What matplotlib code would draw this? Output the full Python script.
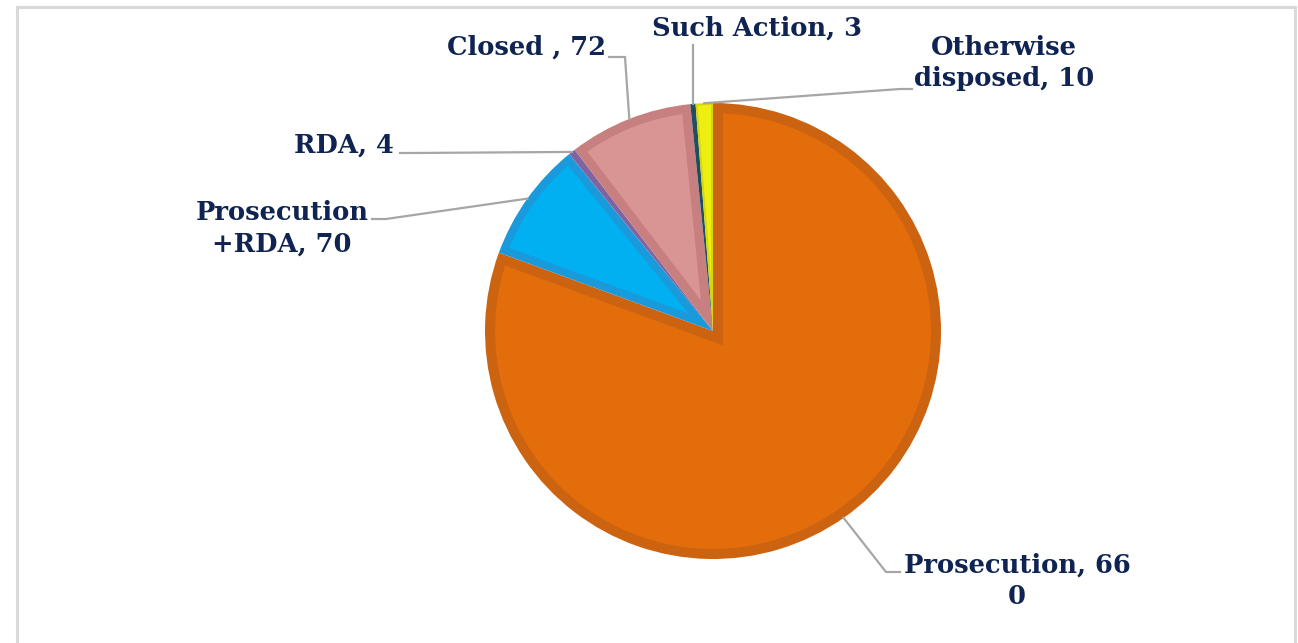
import numpy as np
import matplotlib
matplotlib.use("Agg")
import matplotlib.pyplot as plt
from matplotlib.patches import Rectangle, Polygon

# Case disposal breakdown
categories = ["Prosecution", "Prosecution\n+RDA", "RDA", "Closed ", "Such Action", "Otherwise\ndisposed"]
values = [660, 70, 4, 72, 3, 10]
label_texts = ["Prosecution, 66\n0", "Prosecution\n+RDA, 70", "RDA, 4", "Closed , 72",
               "Such Action, 3", "Otherwise\ndisposed, 10"]

fill_colors = ["#E36C0B", "#00B0F0", "#8064A2", "#D99594", "#1F4E5F", "#EEEE10"]
edge_colors = ["#CB6311", "#1A9ADA", "#6E5690", "#C7807F", "#1F4E5F", "#D6D60C"]
border_px = [10, 8, 0, 9, 0, 2]
text_color = "#0F2452"
leader_color = "#A6A6A6"

W, H = 1298, 643
fig = plt.figure(figsize=(W / 100, H / 100), dpi=100)
ax = fig.add_axes([0, 0, 1, 1])

# chart frame
fig.patches.append(Rectangle((17, -10), 1278, H - 7 + 10, transform=None, fill=False,
                             edgecolor="#D9D9D9", linewidth=2.2, figure=fig))

cx, cy, r = 713, H - 331, 228
wedges, _ = ax.pie(values, colors=edge_colors, startangle=90, counterclock=False,
                   center=(cx, cy), radius=r, frame=True,
                   wedgeprops=dict(linewidth=0))
ax.set_xlim(0, W)
ax.set_ylim(0, H)
ax.set_aspect("equal")
ax.axis("off")


def inset_wedge(w, d):
    """Polygon of the wedge shrunk inward by d (mitred corner at the centre)."""
    t1, t2 = np.deg2rad(w.theta1), np.deg2rad(w.theta2)
    half = (t2 - t1) / 2
    mid = (t1 + t2) / 2
    rr = w.r - d
    apex_dist = d / abs(np.sin(half))
    delta = np.arcsin(d / rr)
    if apex_dist >= rr * np.cos(delta) or t2 - t1 <= 2 * delta:
        return None
    c = np.array(w.center)
    apex = c + apex_dist * np.array([np.cos(mid), np.sin(mid)])
    ang = np.linspace(t1 + delta, t2 - delta, 200)
    arc = np.column_stack([c[0] + rr * np.cos(ang), c[1] + rr * np.sin(ang)])
    return np.vstack([apex, arc])


for w, fc, d in zip(wedges, fill_colors, border_px):
    pts = inset_wedge(w, d) if d else None
    if pts is None:
        w.set_facecolor(fc)
        continue
    ax.add_patch(Polygon(pts, closed=True, facecolor=fc, edgecolor="none",
                         zorder=w.get_zorder() + 0.1))

# label layout: text anchor, alignment, leader path (pixel coords from top-left)
layout = [
    dict(xy=(1017, 581), ha="center", path=[(900, 572), (886, 572)]),
    dict(xy=(282, 228), ha="center", path=[(372, 219), (386, 219)]),
    dict(xy=(394, 145), ha="right", path=[(400, 153), (412, 153)]),
    dict(xy=(606, 47), ha="right", path=[(609, 57), (625, 57)]),
    dict(xy=(757, 28), ha="center", path=[(None, 45)]),
    dict(xy=(1004, 63), ha="center", path=[(912, 89), (900, 89)]),
]

for w, txt, lay in zip(wedges, label_texts, layout):
    mid = np.deg2rad((w.theta1 + w.theta2) / 2)
    ax_x = cx + r * np.cos(mid)
    ax_y = cy + r * np.sin(mid)
    pts = []
    for px, py in lay["path"]:
        if px is None:
            px = ax_x
        pts.append((px, H - py))
    pts.append((ax_x, ax_y))
    xs, ys = zip(*pts)
    ax.plot(xs, ys, color=leader_color, linewidth=1.6, solid_joinstyle="miter", zorder=3)
    ax.text(lay["xy"][0], H - lay["xy"][1], txt, ha=lay["ha"], va="center",
            fontsize=18.5, fontweight="bold", family="DejaVu Serif", color=text_color,
            linespacing=1.34, multialignment="center", zorder=4)

fig.savefig("out.png", dpi=100, facecolor="white")
